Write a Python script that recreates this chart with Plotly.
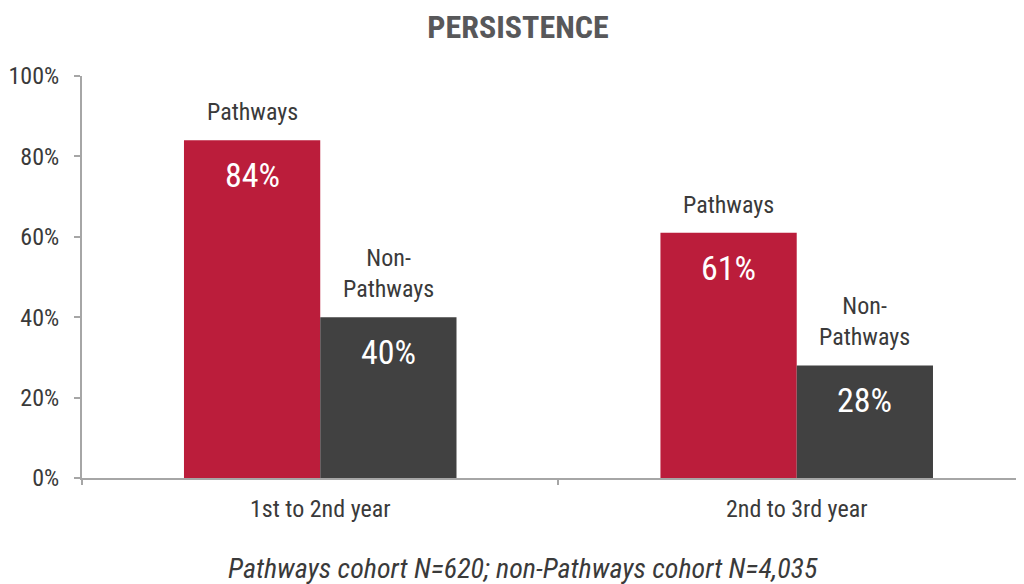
import plotly.graph_objects as go

categories = ["1st to 2nd year", "2nd to 3rd year"]
pathways = [84, 61]
non_pathways = [40, 28]
series_names = ["Pathways", "Non-<br>Pathways"]
y_ticks = [0, 20, 40, 60, 80, 100]
y_tick_labels = ["0%", "20%", "40%", "60%", "80%", "100%"]
title_text = "PERSISTENCE"
footnote = "Pathways cohort N=620; non-Pathways cohort N=4,035"

FONT = "Roboto Condensed, Liberation Sans Narrow, Arial Narrow, Roboto, sans-serif"
RED = "#BB1D3B"
DARK = "#414141"
TEXT = "#3a3a3a"
AXIS = "#a6a6a6"

bargap = 0.428
bar_w = (1 - bargap) / 2

fig = go.Figure()
fig.add_trace(go.Bar(x=categories, y=pathways, marker=dict(color=RED, line=dict(width=0)),
                     name="Pathways", hoverinfo="skip"))
fig.add_trace(go.Bar(x=categories, y=non_pathways, marker=dict(color=DARK, line=dict(width=0)),
                     name="Non-Pathways", hoverinfo="skip"))

annotations = []
for i, cat in enumerate(categories):
    for vals, off, lab in ((pathways, -bar_w / 2, series_names[0]), (non_pathways, bar_w / 2, series_names[1])):
        v = vals[i]
        annotations.append(dict(x=i + off, y=v, xref="x", yref="y", text=lab, showarrow=False,
                                yanchor="bottom", yshift=12, font=dict(family=FONT, size=24, color=TEXT)))
        annotations.append(dict(x=i + off, y=v, xref="x", yref="y", text=f"{v}%", showarrow=False,
                                yanchor="middle", yshift=-35, font=dict(family=FONT, size=34, color="white")))

annotations.append(dict(x=0.468, y=-0.226, xref="paper", yref="paper", text="<i>" + footnote + "</i>",
                        showarrow=False, xanchor="center", yanchor="middle",
                        font=dict(family=FONT, size=28, color=TEXT)))

fig.update_layout(
    width=1016, height=576,
    margin=dict(l=69, r=0, t=68, b=106),
    paper_bgcolor="white", plot_bgcolor="white",
    barmode="group", bargap=bargap, bargroupgap=0,
    showlegend=False,
    title=dict(text="<b>" + title_text + "</b>", x=0.502, xanchor="center", y=0.968, yanchor="middle",
               font=dict(family=FONT, size=32, color="#58585a")),
    annotations=annotations,
    font=dict(family=FONT, color=TEXT),
)
fig.update_xaxes(type="category", range=[-0.5, 1.477], showline=True, linecolor=AXIS, linewidth=2,
                 ticks="outside", tickson="boundaries", ticklen=5, tickcolor=AXIS, tickwidth=2,
                 showgrid=False, zeroline=False, ticklabelstandoff=8,
                 tickfont=dict(family=FONT, size=24, color=TEXT))
fig.update_yaxes(range=[0, 100], tickvals=y_ticks, ticktext=y_tick_labels, showline=True, linecolor=AXIS,
                 linewidth=2, ticks="outside", ticklen=6, tickcolor=AXIS, tickwidth=2, showgrid=False,
                 zeroline=False, ticklabelstandoff=10,
                 tickfont=dict(family=FONT, size=24, color=TEXT))

fig.write_html("out.html")
